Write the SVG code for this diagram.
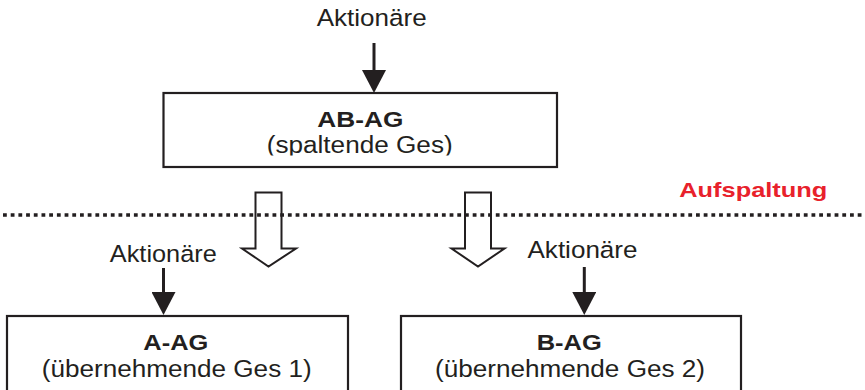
<svg xmlns="http://www.w3.org/2000/svg" width="865" height="390" viewBox="0 0 865 390">
  <defs>
    <style>
      .box { fill: #ffffff; stroke: #231f20; stroke-width: 2.2; }
      .t { font-family: "Liberation Sans", Arial, sans-serif; fill: #231f20; text-anchor: middle; }
      .title { font-size: 22.5px; font-weight: bold; }
      .sub { font-size: 23px; }
      .lab { font-size: 24.5px; }
      .red { font-family: "Liberation Sans", Arial, sans-serif; font-size: 21px; font-weight: bold; fill: #e8212b; text-anchor: middle; }
      .shaft { stroke: #231f20; stroke-width: 3; fill: none; }
      .hollow { fill: none; stroke: #231f20; stroke-width: 2; stroke-linejoin: miter; }
      .dots { stroke: #231f20; stroke-width: 3.6; stroke-dasharray: 3.8 3.9; fill: none; }
    </style>
    <marker id="head" markerUnits="userSpaceOnUse" markerWidth="24" markerHeight="24" viewBox="0 0 24 24" refX="1" refY="12" orient="auto">
      <path d="M0,0 L23,12 L0,24 z" fill="#231f20"/>
    </marker>
    <clipPath id="clipTop">
      <rect x="160" y="90" width="400" height="65.5"/>
    </clipPath>
  </defs>

  <g id="node-ab-ag">
    <rect class="box" x="163.5" y="93" width="393.5" height="74"/>
    <text class="t title" x="360.3" y="127" textLength="86" lengthAdjust="spacingAndGlyphs">AB-AG</text>
    <text class="t sub" x="359.7" y="153.3" textLength="186" lengthAdjust="spacingAndGlyphs" clip-path="url(#clipTop)">(spaltende Ges)</text>
  </g>

  <g id="node-a-ag">
    <rect class="box" x="7" y="316" width="341" height="90"/>
    <text class="t title" x="175.8" y="350" textLength="65" lengthAdjust="spacingAndGlyphs">A-AG</text>
    <text class="t sub" x="176.7" y="377.3" textLength="270" lengthAdjust="spacingAndGlyphs">(übernehmende Ges 1)</text>
  </g>

  <g id="node-b-ag">
    <rect class="box" x="401" y="316" width="340" height="90"/>
    <text class="t title" x="569.2" y="350" textLength="65" lengthAdjust="spacingAndGlyphs">B-AG</text>
    <text class="t sub" x="570" y="377" textLength="270" lengthAdjust="spacingAndGlyphs">(übernehmende Ges 2)</text>
  </g>

  <g id="labels">
    <text class="t lab" x="371.7" y="26" textLength="110" lengthAdjust="spacingAndGlyphs">Aktionäre</text>
    <text class="t lab" x="163.3" y="261.5" textLength="107" lengthAdjust="spacingAndGlyphs">Aktionäre</text>
    <text class="t lab" x="582.5" y="257.5" textLength="110" lengthAdjust="spacingAndGlyphs">Aktionäre</text>
    <text class="red" x="753.3" y="196.7" textLength="148" lengthAdjust="spacingAndGlyphs">Aufspaltung</text>
  </g>

  <g id="divider">
    <line class="dots" x1="3" y1="215" x2="865" y2="215"/>
  </g>

  <g id="connectors">
    <line class="shaft" x1="374" y1="43" x2="374" y2="71" marker-end="url(#head)"/>
    <line class="shaft" x1="163.5" y1="268" x2="163.5" y2="293" marker-end="url(#head)"/>
    <line class="shaft" x1="584.3" y1="267" x2="584.3" y2="293" marker-end="url(#head)"/>
    <polygon class="hollow" points="255.5,192.5 281.5,192.5 281.5,248.5 296,248.5 268.5,266.5 242,248.5 255.5,248.5"/>
    <polygon class="hollow" points="465,192.5 491,192.5 491,248.5 504.5,248.5 478,266.5 451.5,248.5 465,248.5"/>
  </g>
</svg>
